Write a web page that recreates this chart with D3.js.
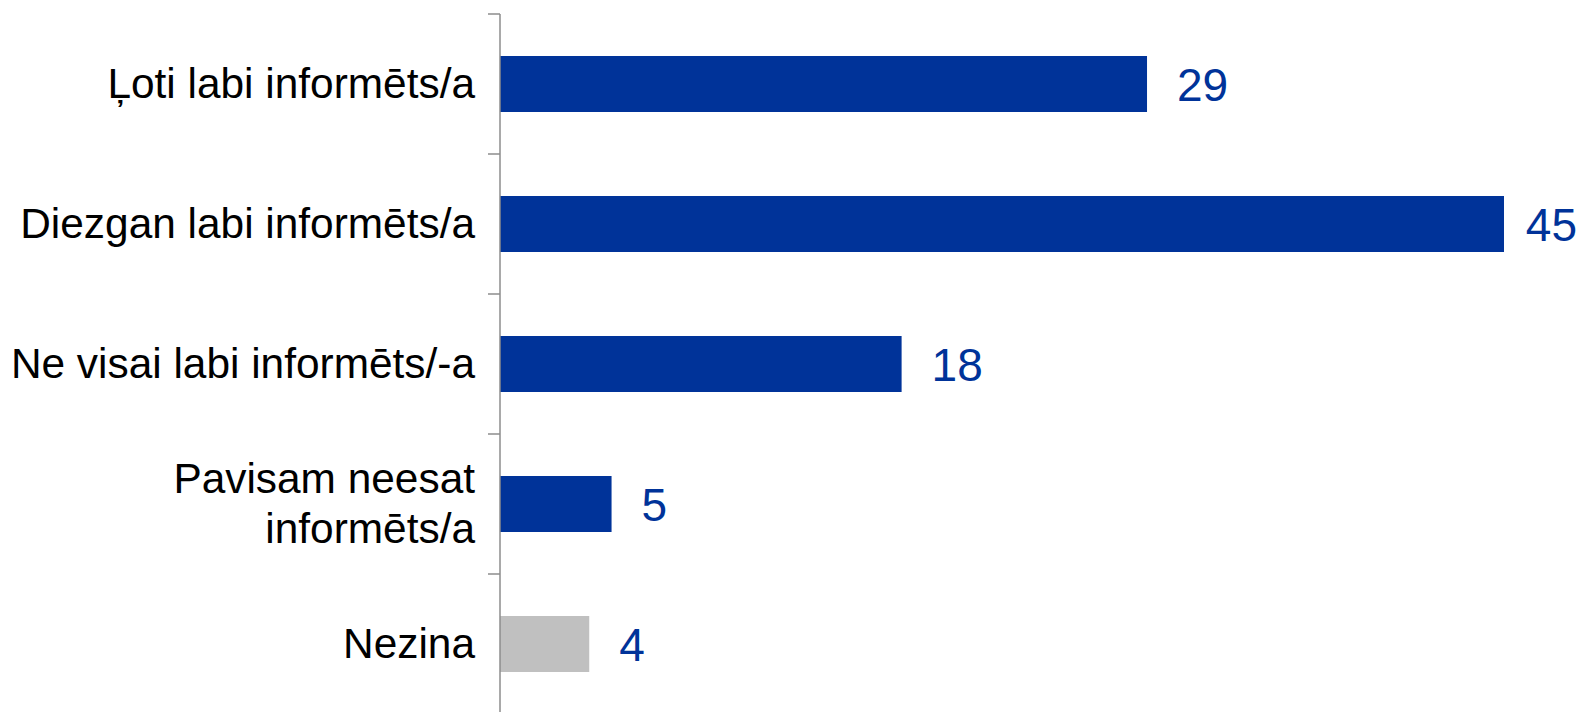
<!DOCTYPE html>
<html>
<head>
<meta charset="utf-8">
<script src="https://cdn.jsdelivr.net/npm/d3@7"></script>
<style>
  body { margin: 0; background: #fff; }
  text { font-family: "Liberation Sans", Arial, sans-serif; }
</style>
</head>
<body>
<div id="chart"></div>
<script>
// Chart data
let categories = [
  "Ļoti labi informēts/a",
  "Diezgan labi informēts/a",
  "Ne visai labi informēts/-a",
  "Pavisam neesat\ninformēts/a",
  "Nezina"
];
let values = [29, 45, 18, 5, 4];
let barColors = ["#003399", "#003399", "#003399", "#003399", "#c0c0c0"];

// SVG area
let svgWidth = 1581;
let svgHeight = 712;

let svg = d3.select("#chart")
  .append("svg")
  .attr("width", svgWidth)
  .attr("height", svgHeight);

// Scales
let axisX = 500;
let yScale = d3.scaleBand()
  .domain(categories)
  .range([14, 714])
  .padding(0);

let xScale = d3.scaleLinear()
  .domain([0, 45])
  .range([axisX, 1504]);

let barHeight = 56;
let rows = categories.map((c, i) => ({ label: c, value: values[i], color: barColors[i] }));

// Bars
svg.selectAll("rect.bar")
  .data(rows)
  .enter()
  .append("rect")
  .attr("class", "bar")
  .attr("x", xScale(0))
  .attr("y", d => yScale(d.label) + (yScale.bandwidth() - barHeight) / 2)
  .attr("width", d => xScale(d.value) - xScale(0))
  .attr("height", barHeight)
  .attr("fill", d => d.color);

// Axis line + ticks at band boundaries
let axisG = svg.append("g").attr("stroke", "#8c8c8c").attr("stroke-width", 1.5);
axisG.append("line")
  .attr("x1", axisX).attr("x2", axisX)
  .attr("y1", yScale.range()[0]).attr("y2", svgHeight);
let bounds = categories.map(c => yScale(c)).concat([yScale.range()[1]]);
axisG.selectAll("line.tick")
  .data(bounds)
  .enter()
  .append("line")
  .attr("class", "tick")
  .attr("x1", axisX - 12).attr("x2", axisX)
  .attr("y1", d => d).attr("y2", d => d);

// Category labels
let labels = svg.selectAll("text.cat")
  .data(rows)
  .enter()
  .append("text")
  .attr("class", "cat")
  .attr("text-anchor", "end")
  .attr("font-size", "42.4px")
  .attr("fill", "#000");

labels.each(function (d) {
  let lines = d.label.split("\n");
  let cy = yScale(d.label) + yScale.bandwidth() / 2;
  let lh = 50;
  let first = cy - (lines.length - 1) * lh / 2;
  d3.select(this).selectAll("tspan")
    .data(lines)
    .enter()
    .append("tspan")
    .attr("x", 475)
    .attr("y", (l, i) => first + i * lh)
    .attr("dy", "0.33em")
    .text(l => l);
});

// Value labels
svg.selectAll("text.val")
  .data(rows)
  .enter()
  .append("text")
  .attr("class", "val")
  .attr("font-size", "46px")
  .attr("fill", "#003399")
  .attr("y", d => yScale(d.label) + yScale.bandwidth() / 2)
  .attr("dy", "0.36em")
  .text(d => d.value)
  .attr("x", function (d) {
    let w = this.getComputedTextLength();
    return Math.min(xScale(d.value) + 30, svgWidth - 4 - w);
  });
</script>
</body>
</html>
